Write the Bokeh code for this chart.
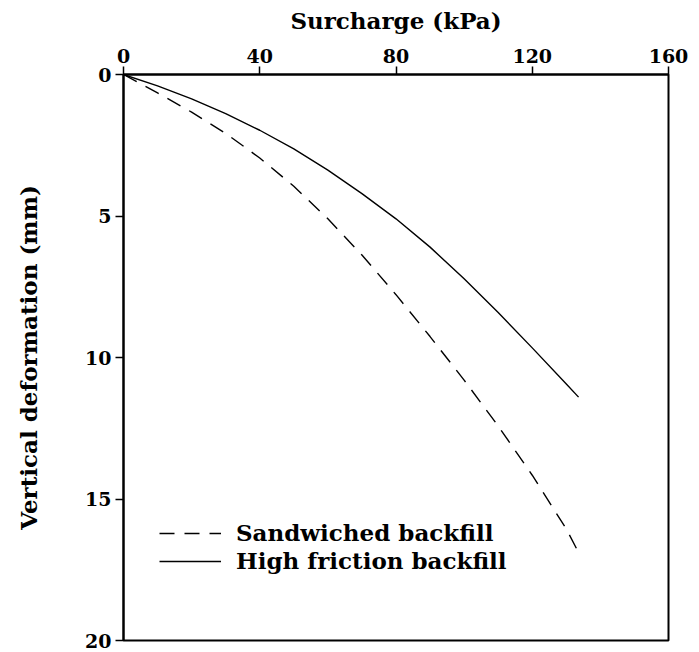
from bokeh.plotting import figure
from bokeh.models import Range1d, FixedTicker, Legend, LegendItem
from bokeh.embed import file_html
from bokeh.resources import INLINE

# Data
surcharge_high_friction = [0, 10, 20, 30, 40, 50, 60, 70, 80, 90, 100, 110, 120, 130, 133.6]
deform_high_friction = [0, 0.40, 0.86, 1.38, 1.97, 2.63, 3.38, 4.21, 5.10, 6.10, 7.22, 8.41, 9.66, 10.94, 11.40]

surcharge_sandwiched = [0, 10, 20, 30, 40, 50, 60, 70, 80, 90, 100, 110, 120, 130, 133.6]
deform_sandwiched = [0, 0.65, 1.33, 2.08, 2.95, 3.95, 5.10, 6.38, 7.78, 9.26, 10.80, 12.42, 14.16, 16.06, 16.89]

x_ticks = [0, 40, 80, 120, 160]
y_ticks = [0, 5, 10, 15, 20]
x_title = "Surcharge (kPa)"
y_title = "Vertical deformation (mm)"
series_names = ["Sandwiched backfill", "High friction backfill"]

FONT = "DejaVu Serif"

p = figure(
    frame_width=545, frame_height=566,
    x_range=Range1d(0, 160), y_range=Range1d(20, 0),
    x_axis_location="above",
    output_backend="svg", toolbar_location=None,
    min_border_left=123, min_border_top=74, min_border_right=31, min_border_bottom=12,
)
p.grid.visible = False
p.outline_line_color = "black"
p.outline_line_width = 2
p.background_fill_color = "white"
p.border_fill_color = "white"

for ax in (p.xaxis[0], p.yaxis[0]):
    ax.axis_line_width = 2
    ax.axis_line_color = "black"
    ax.major_tick_line_width = 1.5
    ax.major_tick_line_color = "black"
    ax.major_tick_out = 8
    ax.major_tick_in = 0
    ax.minor_tick_line_color = None
    ax.major_label_text_font = FONT
    ax.major_label_text_font_style = "bold"
    ax.major_label_text_font_size = "19px"
    ax.major_label_text_color = "black"
    ax.axis_label_text_font = FONT
    ax.axis_label_text_font_style = "bold"
    ax.axis_label_text_font_size = "23px"
    ax.axis_label_text_color = "black"
    ax.major_label_standoff = 4

p.xaxis.ticker = FixedTicker(ticks=x_ticks)
p.yaxis.ticker = FixedTicker(ticks=y_ticks)
p.xaxis.axis_label = x_title
p.yaxis.axis_label = y_title
p.xaxis.axis_label_standoff = 12
p.yaxis.axis_label_standoff = 40

r_sw = p.line(surcharge_sandwiched, deform_sandwiched, line_color="black", line_width=1.4, line_dash="15 10")
r_hf = p.line(surcharge_high_friction, deform_high_friction, line_color="black", line_width=1.4)

legend = Legend(
    items=[LegendItem(label=series_names[0], renderers=[r_sw]),
           LegendItem(label=series_names[1], renderers=[r_hf])],
    location=(36, 66),
    glyph_width=62, glyph_height=24, label_height=24, label_standoff=15,
    spacing=1, padding=0, margin=0,
    label_text_font=FONT, label_text_font_style="bold", label_text_font_size="23px",
    label_text_color="black",
    border_line_alpha=0, background_fill_alpha=0,
)
p.add_layout(legend)

open("out.html", "w").write(file_html(p, INLINE))
